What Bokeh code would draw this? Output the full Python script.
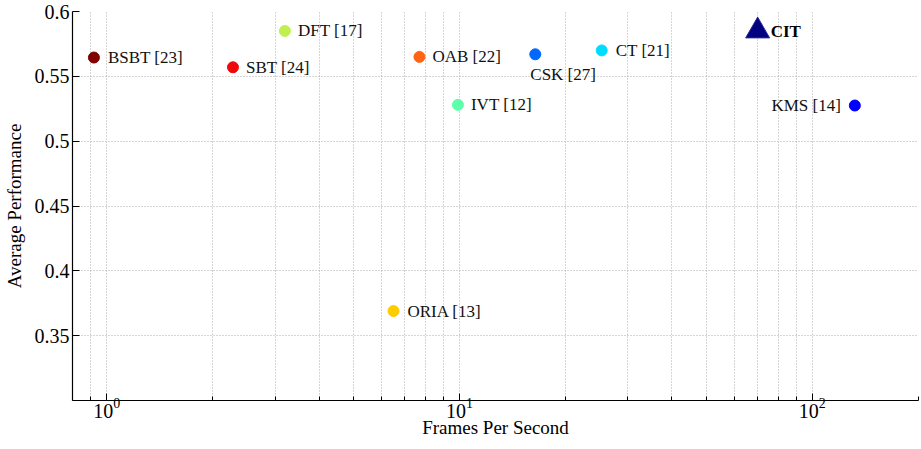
from bokeh.plotting import figure
from bokeh.models import Range1d, FixedTicker, ColumnDataSource, CustomJSTickFormatter, LogTickFormatter
from bokeh.core.properties import value
from bokeh.embed import file_html
from bokeh.resources import INLINE

# ---- data ----
names = ["BSBT [23]", "SBT [24]", "DFT [17]", "OAB [22]", "IVT [12]",
         "CSK [27]", "CT [21]", "KMS [14]", "ORIA [13]"]
fps = [0.92, 2.28, 3.2, 7.7, 9.9, 16.4, 25.3, 132, 6.5]
perf = [0.5645, 0.557, 0.585, 0.565, 0.528, 0.567, 0.570, 0.5275, 0.369]
colors = ["#800000", "#ee0a0a", "#c0f050", "#ff6414", "#5effaa",
          "#0068ff", "#00dcff", "#0000ff", "#ffcc00"]

cit_name = ["CIT"]
cit_fps = [70]
cit_perf = [0.585]

x_major = [1, 10, 100]
x_minor = [0.8, 0.9, 2, 3, 4, 5, 6, 7, 8, 9, 20, 30, 40, 50, 60, 70, 80, 90, 200]
y_ticks = [0.35, 0.4, 0.45, 0.5, 0.55, 0.6]
x_title = "Frames Per Second"
y_title = "Average Performance"

# label styles (offsets / alignment)
x_off = [14, 13, 13, 13, 13, -5, 14, -14, 14]
y_off = [0, 0, 0, 0, 0, 20, 0, 0, 0]
align = ["left", "left", "left", "left", "left", "left", "left", "right", "left"]

FONT = "Liberation Serif"

p = figure(width=921, height=449, x_axis_type="log",
           x_range=Range1d(0.8, 200), y_range=Range1d(0.3, 0.6),
           output_backend="svg", toolbar_location=None,
           min_border_left=71, min_border_top=11, min_border_right=3,
           min_border_bottom=49)
p.outline_line_color = None

src = ColumnDataSource(dict(x=fps, y=perf, c=colors, name=names,
                            xo=x_off, yo=y_off, al=align))
p.scatter("x", "y", source=src, size=11, fill_color="c", line_color="c")
p.text("x", "y", text="name", source=src, x_offset="xo", y_offset="yo",
       text_align="al", text_baseline="middle", text_font=value(FONT),
       text_font_size="17px", text_color="#111111")

csrc = ColumnDataSource(dict(x=cit_fps, y=cit_perf, name=cit_name))
p.scatter("x", "y", source=csrc, marker="triangle", size=24,
          fill_color="#000080", line_color="#2a2a9a")
p.text("x", "y", text="name", source=csrc, x_offset=13, y_offset=1,
       text_align="left", text_baseline="middle", text_font=value(FONT),
       text_font_size="17px", text_font_style="bold", text_color="#000000")

# axes
p.xaxis.ticker = FixedTicker(ticks=x_major, minor_ticks=x_minor)
p.xaxis.formatter = LogTickFormatter()
p.yaxis.ticker = FixedTicker(ticks=y_ticks)
p.yaxis.formatter = CustomJSTickFormatter(code="return String(Math.round(tick*100)/100)")

for ax in (p.xaxis[0], p.yaxis[0]):
    ax.axis_line_color = "black"
    ax.axis_line_width = 1.2
    ax.major_tick_in = 7
    ax.major_tick_out = 0
    ax.minor_tick_in = 4
    ax.minor_tick_out = 0
    ax.major_tick_line_color = "black"
    ax.minor_tick_line_color = "black"
    ax.major_label_text_font = FONT
    ax.major_label_text_font_size = "20px"
    ax.major_label_text_color = "black"
    ax.axis_label_text_font = FONT
    ax.axis_label_text_font_size = "19px"
    ax.axis_label_text_font_style = "normal"
    ax.axis_label_text_color = "black"
    ax.major_label_standoff = 3
    ax.axis_label_standoff = 2

p.xaxis.major_label_standoff = -3
p.xaxis.axis_label_standoff = -4
p.yaxis.axis_label_standoff = 7
p.yaxis.minor_tick_line_color = None
p.xaxis.axis_label = x_title
p.yaxis.axis_label = y_title

# grids
for g in (p.xgrid[0], p.ygrid[0]):
    g.grid_line_color = "#aaaaaa"
    g.grid_line_dash = "1 2"
    g.grid_line_width = 1
p.xgrid.minor_grid_line_color = "#aaaaaa"
p.xgrid.minor_grid_line_dash = "1 2"
p.xgrid.minor_grid_line_width = 1

open("out.html", "w").write(file_html(p, INLINE))
